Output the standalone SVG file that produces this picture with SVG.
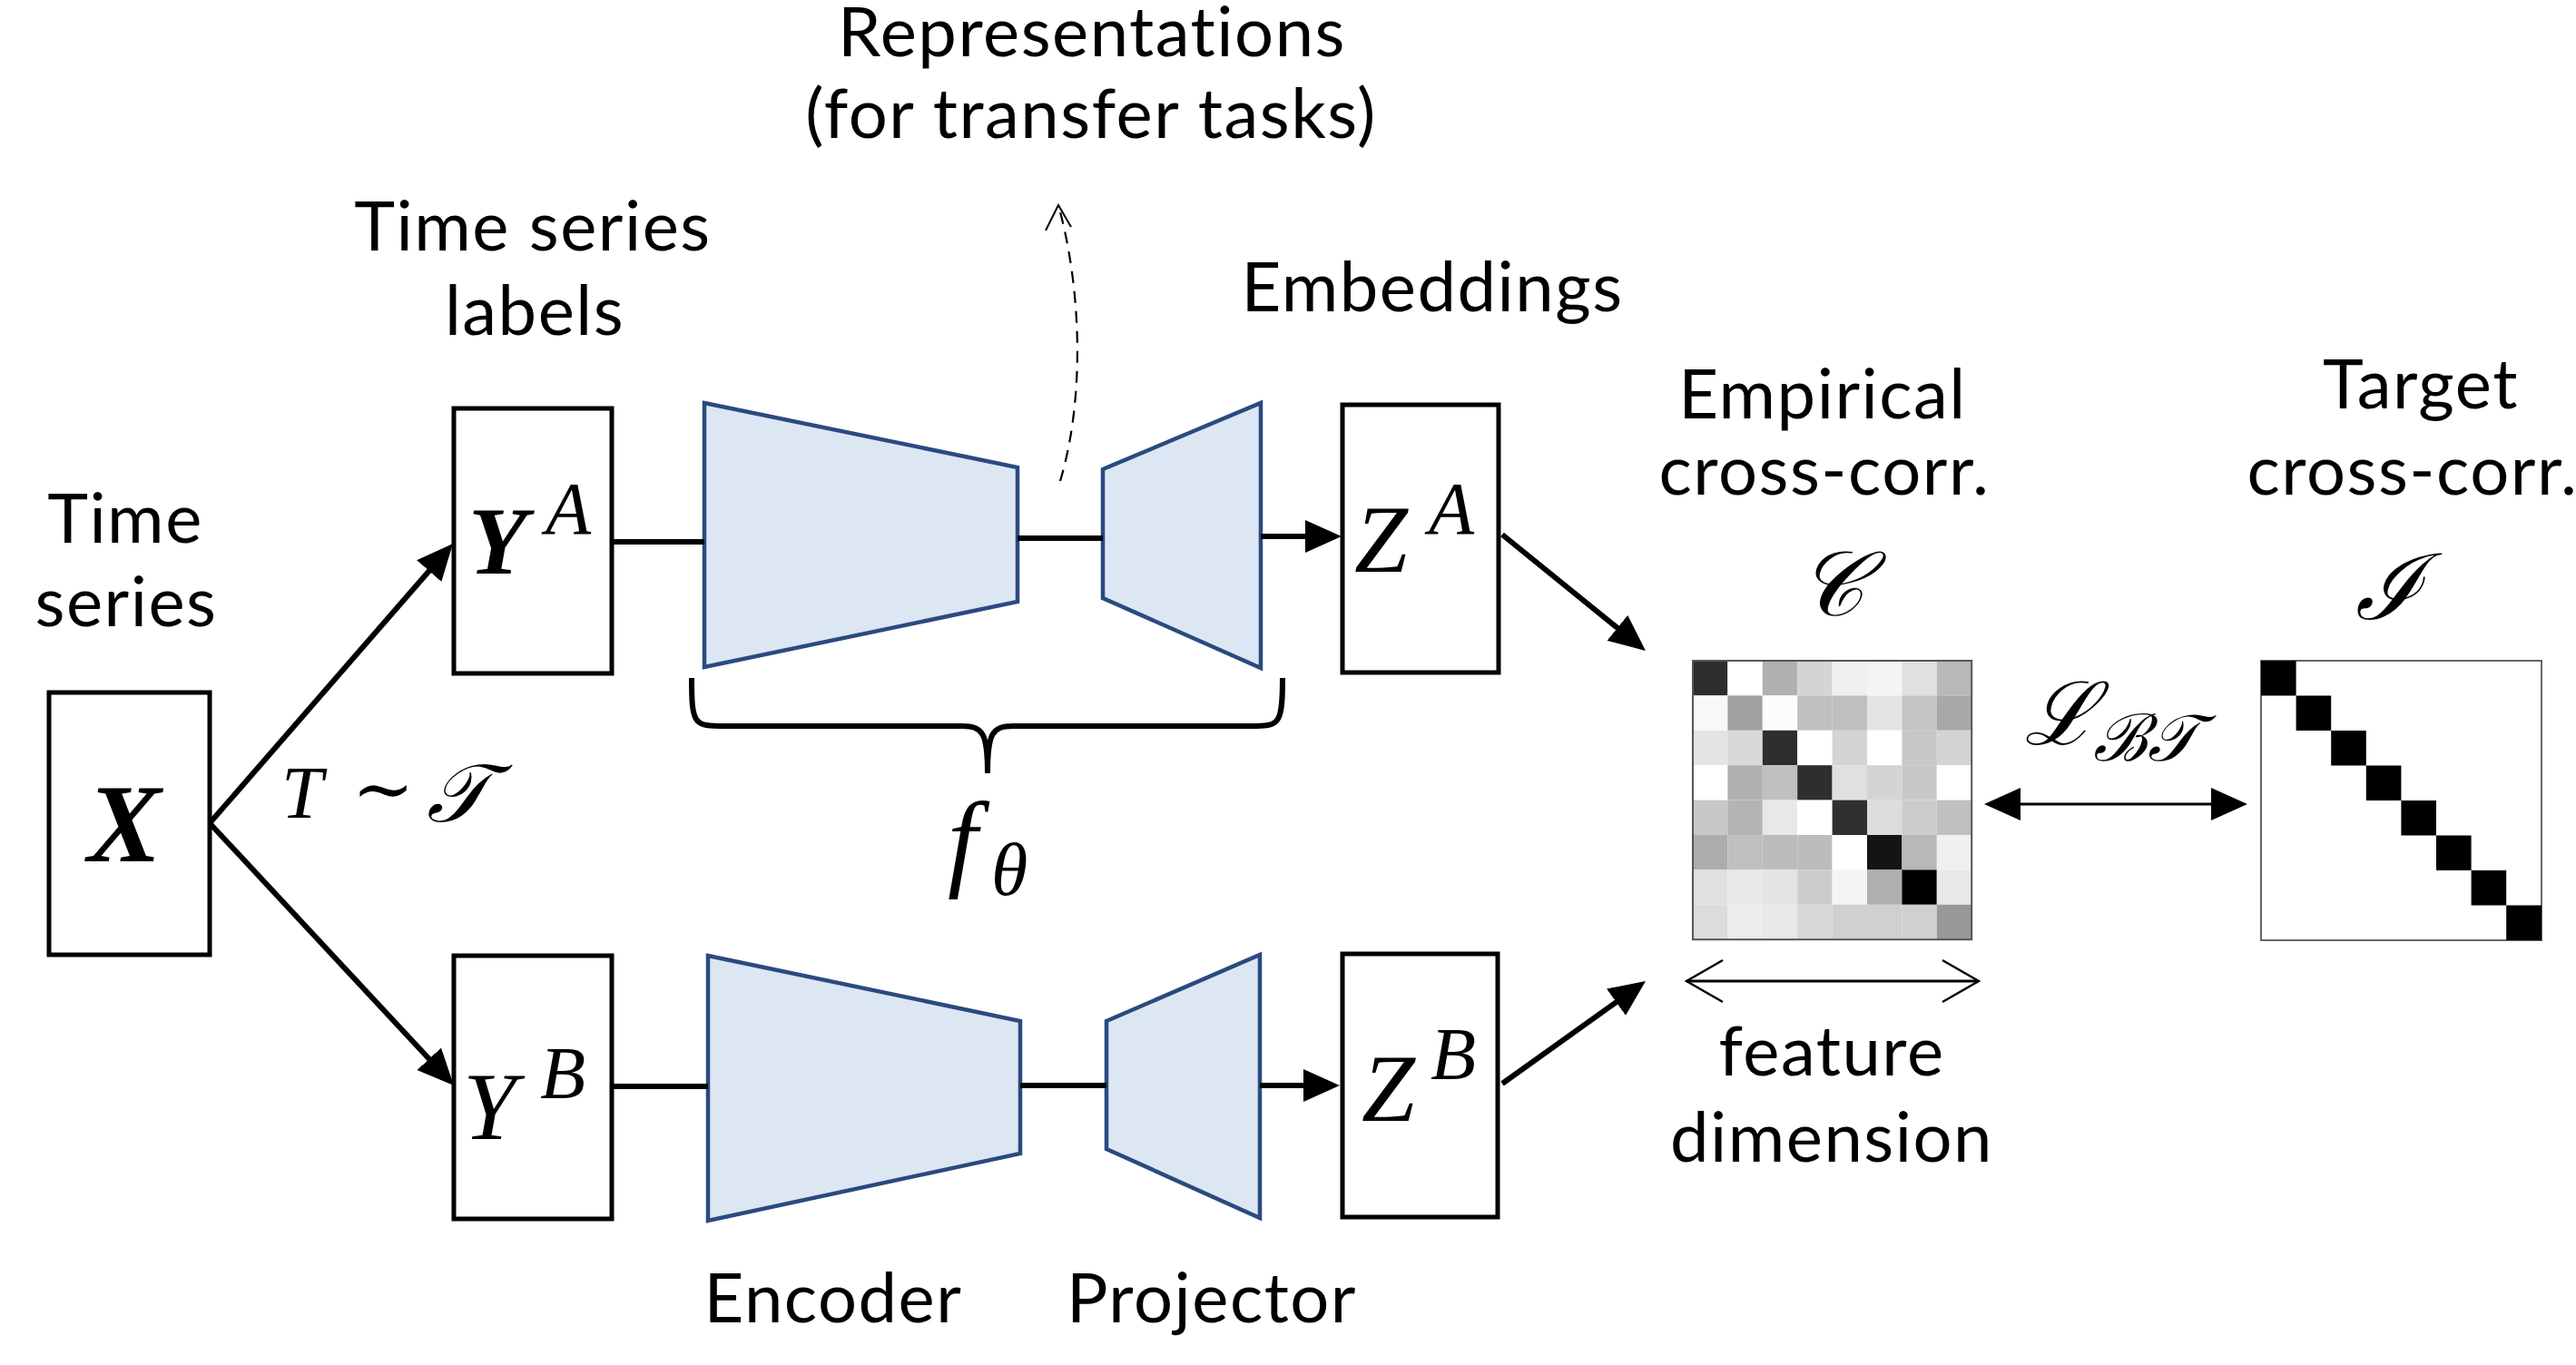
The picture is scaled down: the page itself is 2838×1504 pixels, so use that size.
<svg xmlns="http://www.w3.org/2000/svg" width="2838" height="1504" viewBox="0 0 2838 1504">
<style>
.lbl{font-family:Lato,"Open Sans",sans-serif;font-size:76px;fill:#000;text-anchor:middle;letter-spacing:1.5px;font-variant-ligatures:none}
.m{font-family:"Liberation Serif","DejaVu Serif",serif;font-style:italic;fill:#000}
.box{fill:#fff;stroke:#000;stroke-width:5}
.trap{fill:#dde6f3;stroke:#2a4a80;stroke-width:4.5;stroke-linejoin:miter}
.con{fill:none;stroke:#000;stroke-width:6}
.thin{fill:none;stroke:#000;stroke-width:3}
</style>
<defs>
<marker id="ah" viewBox="0 0 40 36" refX="30" refY="18" markerWidth="40" markerHeight="36" markerUnits="userSpaceOnUse" orient="auto-start-reverse">
<path d="M0,0 L40,18 L0,36 z" fill="#000"/>
</marker>
<marker id="open" viewBox="0 0 44 50" refX="42" refY="25" markerWidth="44" markerHeight="50" markerUnits="userSpaceOnUse" orient="auto-start-reverse">
<path d="M2,2 L42,25 L2,48" fill="none" stroke="#000" stroke-width="2.5"/>
</marker>
<marker id="dash" viewBox="0 0 30 30" refX="15" refY="2" markerWidth="30" markerHeight="30" markerUnits="userSpaceOnUse" orient="0">
<path d="M1,30 L15,2 L29,26" fill="none" stroke="#000" stroke-width="2"/>
</marker>
</defs>

<g id="labels">
<text class="lbl" x="138" y="598">Time</text>
<text class="lbl" x="139" y="690">series</text>
<text class="lbl" x="587" y="276">Time series</text>
<text class="lbl" x="589" y="369">labels</text>
<text class="lbl" x="1203" y="62" font-size="74">Representations</text>
<text class="lbl" x="1202" y="152">(for transfer tasks)</text>
<text class="lbl" x="1578" y="343">Embeddings</text>
<text class="lbl" x="2008" y="461">Empirical</text>
<text class="lbl" x="2010" y="545">cross-corr.</text>
<text class="lbl" x="2667" y="450">Target</text>
<text class="lbl" x="2658" y="545">cross-corr.</text>
<text class="lbl" x="2018" y="1185">feature</text>
<text class="lbl" x="2018" y="1280">dimension</text>
<text class="lbl" x="918" y="1457">Encoder</text>
<text class="lbl" x="1335" y="1457">Projector</text>
</g>

<g id="node-X">
<rect class="box" x="54" y="763" width="177" height="289"/>
<text class="m" x="137" y="949" font-size="122" font-weight="bold" text-anchor="middle">X</text>
</g>

<g id="node-YA">
<rect class="box" x="500" y="450" width="174" height="292"/>
<text class="m" x="516" y="632" font-size="106" font-weight="bold">Y</text>
<text class="m" x="601" y="588" font-size="82">A</text>
</g>

<g id="node-YB">
<rect class="box" x="500" y="1053" width="174" height="290"/>
<text class="m" x="510" y="1255" font-size="106">Y</text>
<text class="m" x="595" y="1210" font-size="82">B</text>
</g>

<g id="node-encA"><polygon class="trap" points="776,444 1121,515 1121,663 776,735"/></g>
<g id="node-projA"><polygon class="trap" points="1215,517 1389,444 1389,736 1215,659"/></g>
<g id="node-encB"><polygon class="trap" points="780,1053 1124,1125 1124,1271 780,1345"/></g>
<g id="node-projB"><polygon class="trap" points="1219,1125 1388,1052 1388,1342 1219,1266"/></g>

<g id="node-ZA">
<rect class="box" x="1479" y="446" width="172" height="295"/>
<text class="m" x="1492" y="630" font-size="106">Z</text>
<text class="m" x="1574" y="588" font-size="82">A</text>
</g>

<g id="node-ZB">
<rect class="box" x="1479" y="1051" width="171" height="290"/>
<text class="m" x="1500" y="1235" font-size="106">Z</text>
<text class="m" x="1576" y="1189" font-size="82">B</text>
</g>

<g id="brace">
<path class="con" d="M762,747 C762,795 764,800 792,800 L1060,800 C1083,800 1088,808 1088,852 C1088,808 1093,800 1116,800 L1384,800 C1410,800 1413,795 1413,747" stroke-width="5.5"/>
<text class="m" x="1044" y="966" font-size="118">f</text>
<text class="m" x="1092" y="986" font-size="82">θ</text>
</g>

<g id="tlabel">
<text class="m" x="310" y="901" font-size="82">T</text>
<text class="m" x="422" y="897" font-size="82" font-style="normal" text-anchor="middle">∼</text>
<text class="m" x="470" y="905" font-size="90">𝒯</text>
</g>

<g id="node-C">
<text class="m" x="2017" y="678" font-size="100" text-anchor="middle">𝒞</text>
<g id="cmat" stroke="none">
<rect x="1865" y="728" width="38.4" height="38.4" fill="#2e2e2e"/><rect x="1903.4" y="728" width="38.4" height="38.4" fill="#ffffff"/><rect x="1941.8" y="728" width="38.4" height="38.4" fill="#b0b0b0"/><rect x="1980.2" y="728" width="38.4" height="38.4" fill="#d4d4d4"/><rect x="2018.6" y="728" width="38.4" height="38.4" fill="#f0f0f0"/><rect x="2057" y="728" width="38.4" height="38.4" fill="#f4f4f4"/><rect x="2095.4" y="728" width="38.4" height="38.4" fill="#e0e0e0"/><rect x="2133.8" y="728" width="38.4" height="38.4" fill="#b8b8b8"/>
<rect x="1865" y="766.4" width="38.4" height="38.4" fill="#f8f8f8"/><rect x="1903.4" y="766.4" width="38.4" height="38.4" fill="#a0a0a0"/><rect x="1941.8" y="766.4" width="38.4" height="38.4" fill="#fcfcfc"/><rect x="1980.2" y="766.4" width="38.4" height="38.4" fill="#c0c0c0"/><rect x="2018.6" y="766.4" width="38.4" height="38.4" fill="#c0c0c0"/><rect x="2057" y="766.4" width="38.4" height="38.4" fill="#e4e4e4"/><rect x="2095.4" y="766.4" width="38.4" height="38.4" fill="#c4c4c4"/><rect x="2133.8" y="766.4" width="38.4" height="38.4" fill="#a8a8a8"/>
<rect x="1865" y="804.8" width="38.4" height="38.4" fill="#e4e4e4"/><rect x="1903.4" y="804.8" width="38.4" height="38.4" fill="#d8d8d8"/><rect x="1941.8" y="804.8" width="38.4" height="38.4" fill="#2e2e2e"/><rect x="1980.2" y="804.8" width="38.4" height="38.4" fill="#ffffff"/><rect x="2018.6" y="804.8" width="38.4" height="38.4" fill="#d4d4d4"/><rect x="2057" y="804.8" width="38.4" height="38.4" fill="#ffffff"/><rect x="2095.4" y="804.8" width="38.4" height="38.4" fill="#c8c8c8"/><rect x="2133.8" y="804.8" width="38.4" height="38.4" fill="#d4d4d4"/>
<rect x="1865" y="843.2" width="38.4" height="38.4" fill="#ffffff"/><rect x="1903.4" y="843.2" width="38.4" height="38.4" fill="#b0b0b0"/><rect x="1941.8" y="843.2" width="38.4" height="38.4" fill="#c0c0c0"/><rect x="1980.2" y="843.2" width="38.4" height="38.4" fill="#2e2e2e"/><rect x="2018.6" y="843.2" width="38.4" height="38.4" fill="#e0e0e0"/><rect x="2057" y="843.2" width="38.4" height="38.4" fill="#d4d4d4"/><rect x="2095.4" y="843.2" width="38.4" height="38.4" fill="#c8c8c8"/><rect x="2133.8" y="843.2" width="38.4" height="38.4" fill="#ffffff"/>
<rect x="1865" y="881.6" width="38.4" height="38.4" fill="#c8c8c8"/><rect x="1903.4" y="881.6" width="38.4" height="38.4" fill="#b4b4b4"/><rect x="1941.8" y="881.6" width="38.4" height="38.4" fill="#e8e8e8"/><rect x="1980.2" y="881.6" width="38.4" height="38.4" fill="#ffffff"/><rect x="2018.6" y="881.6" width="38.4" height="38.4" fill="#303030"/><rect x="2057" y="881.6" width="38.4" height="38.4" fill="#dcdcdc"/><rect x="2095.4" y="881.6" width="38.4" height="38.4" fill="#cccccc"/><rect x="2133.8" y="881.6" width="38.4" height="38.4" fill="#c0c0c0"/>
<rect x="1865" y="920" width="38.4" height="38.4" fill="#acacac"/><rect x="1903.4" y="920" width="38.4" height="38.4" fill="#c0c0c0"/><rect x="1941.8" y="920" width="38.4" height="38.4" fill="#bcbcbc"/><rect x="1980.2" y="920" width="38.4" height="38.4" fill="#bcbcbc"/><rect x="2018.6" y="920" width="38.4" height="38.4" fill="#ffffff"/><rect x="2057" y="920" width="38.4" height="38.4" fill="#141414"/><rect x="2095.4" y="920" width="38.4" height="38.4" fill="#b8b8b8"/><rect x="2133.8" y="920" width="38.4" height="38.4" fill="#f0f0f0"/>
<rect x="1865" y="958.4" width="38.4" height="38.4" fill="#e0e0e0"/><rect x="1903.4" y="958.4" width="38.4" height="38.4" fill="#e8e8e8"/><rect x="1941.8" y="958.4" width="38.4" height="38.4" fill="#e4e4e4"/><rect x="1980.2" y="958.4" width="38.4" height="38.4" fill="#cccccc"/><rect x="2018.6" y="958.4" width="38.4" height="38.4" fill="#f4f4f4"/><rect x="2057" y="958.4" width="38.4" height="38.4" fill="#b0b0b0"/><rect x="2095.4" y="958.4" width="38.4" height="38.4" fill="#000000"/><rect x="2133.8" y="958.4" width="38.4" height="38.4" fill="#e8e8e8"/>
<rect x="1865" y="996.8" width="38.4" height="38.4" fill="#dcdcdc"/><rect x="1903.4" y="996.8" width="38.4" height="38.4" fill="#ececec"/><rect x="1941.8" y="996.8" width="38.4" height="38.4" fill="#e8e8e8"/><rect x="1980.2" y="996.8" width="38.4" height="38.4" fill="#d8d8d8"/><rect x="2018.6" y="996.8" width="38.4" height="38.4" fill="#d0d0d0"/><rect x="2057" y="996.8" width="38.4" height="38.4" fill="#d0d0d0"/><rect x="2095.4" y="996.8" width="38.4" height="38.4" fill="#d0d0d0"/><rect x="2133.8" y="996.8" width="38.4" height="38.4" fill="#989898"/>
</g>
<rect x="1865" y="728" width="307.2" height="307.2" fill="none" stroke="#555" stroke-width="2"/>
</g>

<g id="node-I">
<text class="m" x="2632" y="682" font-size="100" text-anchor="middle">ℐ</text>
<rect x="2491" y="728" width="309" height="308" fill="#fff" stroke="#666" stroke-width="2"/>
<g fill="#000">
<rect x="2491" y="728" width="38.6" height="38.5"/><rect x="2529.6" y="766.5" width="38.6" height="38.5"/><rect x="2568.2" y="805" width="38.6" height="38.5"/><rect x="2606.8" y="843.5" width="38.6" height="38.5"/><rect x="2645.4" y="882" width="38.6" height="38.5"/><rect x="2684" y="920.5" width="38.6" height="38.5"/><rect x="2722.6" y="959" width="38.6" height="38.5"/><rect x="2761.2" y="997.5" width="38.8" height="38.5"/>
</g>
</g>

<g id="loss-label">
<text class="m" x="2230" y="820" font-size="96">ℒ</text>
<text class="m" x="2306" y="838" font-size="72">ℬ𝒯</text>
</g>

<g id="connectors">
<line class="con" x1="231" y1="907" x2="492.4" y2="606.5" marker-end="url(#ah)"/>
<line class="con" x1="231" y1="907" x2="493.2" y2="1188.7" marker-end="url(#ah)"/>
<line class="con" x1="674" y1="597" x2="776" y2="597"/>
<line class="con" x1="1121" y1="593" x2="1215" y2="593"/>
<line class="con" x1="1389" y1="591" x2="1468" y2="591" marker-end="url(#ah)"/>
<line class="con" x1="674" y1="1197" x2="780" y2="1197"/>
<line class="con" x1="1124" y1="1196" x2="1219" y2="1196"/>
<line class="con" x1="1388" y1="1196" x2="1466" y2="1196" marker-end="url(#ah)"/>
<line class="con" x1="1655" y1="589" x2="1805.2" y2="710.7" marker-end="url(#ah)"/>
<line class="con" x1="1655" y1="1194" x2="1804.9" y2="1086.8" marker-end="url(#ah)"/>
<line class="thin" x1="2196" y1="886" x2="2466" y2="886" stroke-width="4" marker-start="url(#ah)" marker-end="url(#ah)"/>
<line class="thin" x1="1858" y1="1081" x2="2180" y2="1081" stroke-width="2.5" marker-start="url(#open)" marker-end="url(#open)"/>
<path d="M1168,530 C1195,440 1192,320 1166,226" fill="none" stroke="#000" stroke-width="2.2" stroke-dasharray="13,9" marker-end="url(#dash)"/>
</g>
</svg>
